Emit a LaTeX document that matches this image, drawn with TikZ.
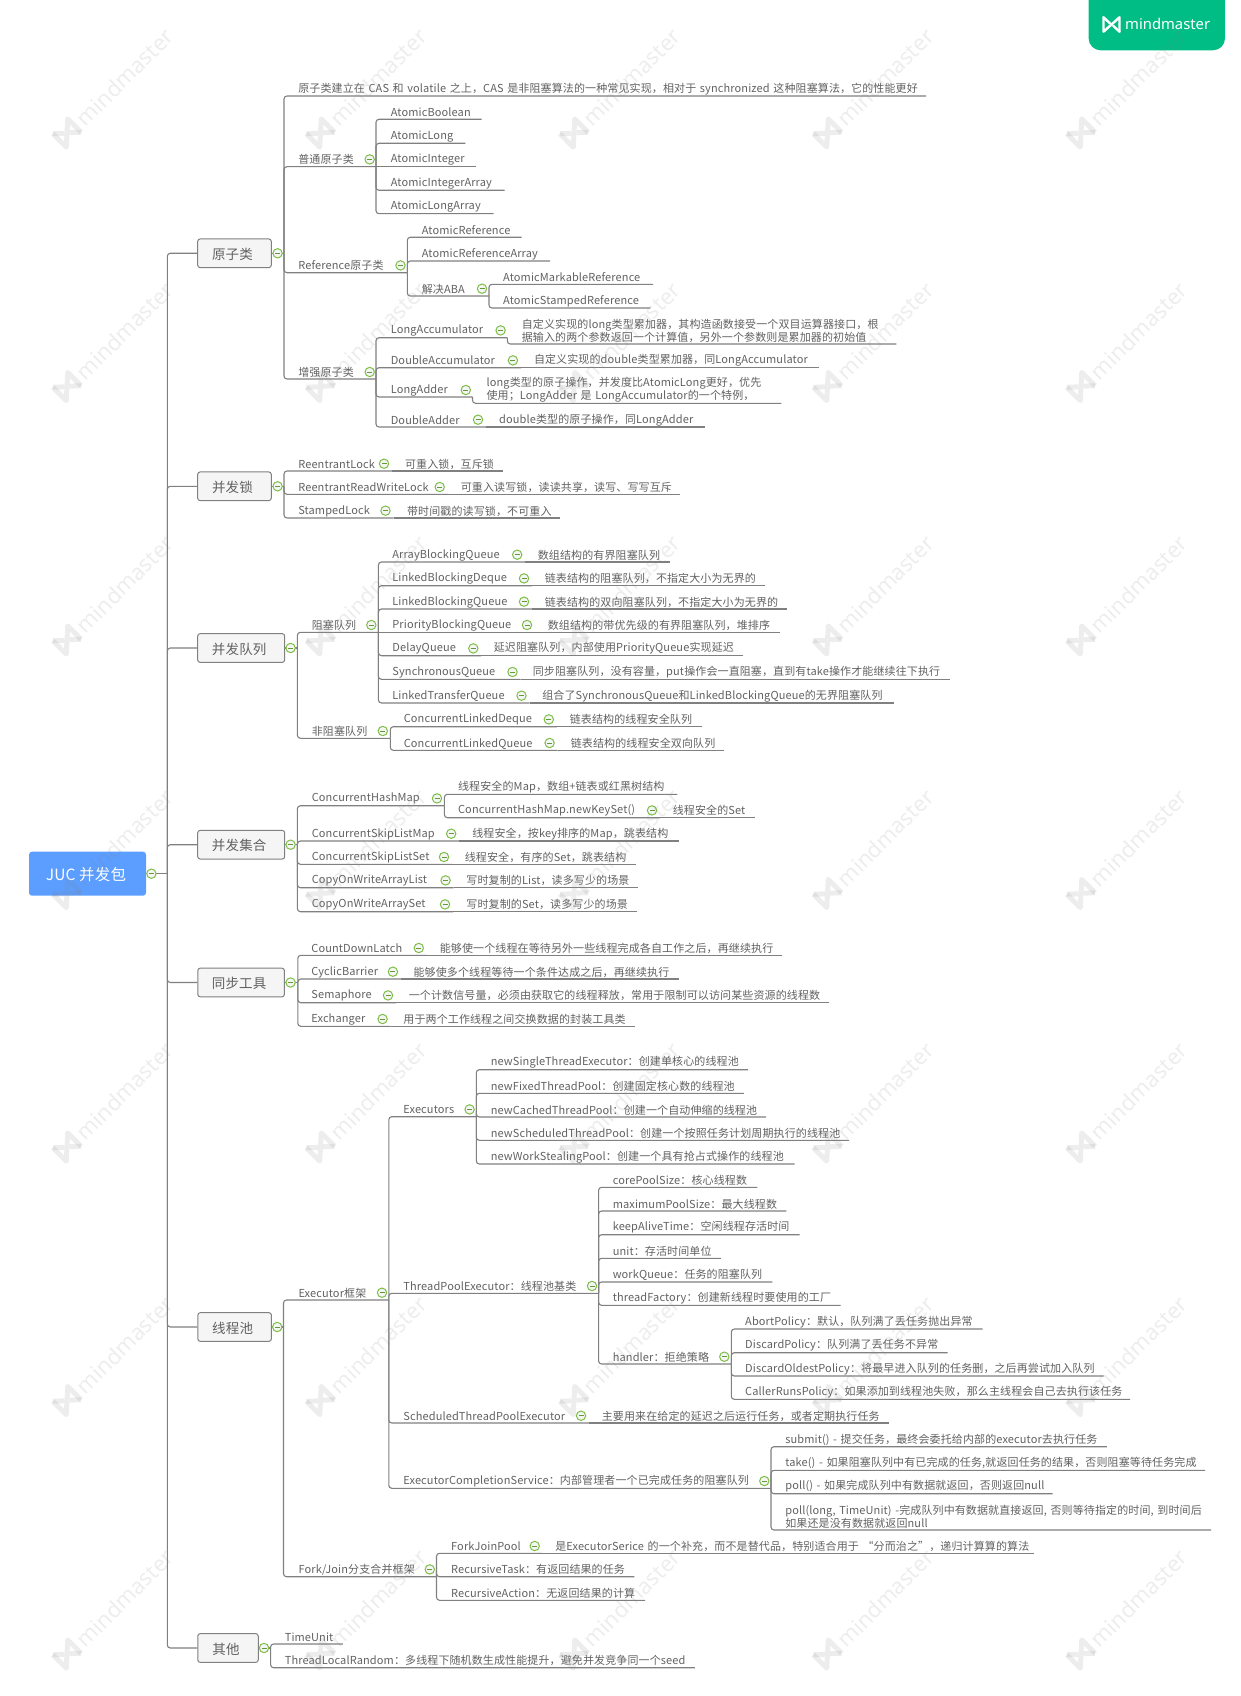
\documentclass[tikz,border=0pt]{standalone}
\usepackage{fontspec}
\setmainfont{Noto Sans CJK SC}[LetterSpace=1.1]
\newfontfamily\mmfont{Noto Sans}

\definecolor{linegray}{HTML}{808080}
\definecolor{textgray}{HTML}{616161}
\definecolor{boxfill}{HTML}{F5F5F5}
\definecolor{rootblue}{HTML}{5C9EFF}
\definecolor{togglegreen}{HTML}{7DBF46}
\definecolor{logogreen}{HTML}{00BD85}
\newcommand{\rowstrut}{\rule[-1.6pt]{0pt}{9pt}}

\tikzset{
    topic/.style={anchor=south east, inner xsep=0pt, inner ysep=1pt, align=left, text=textgray,
        font=\fontsize{11}{12.7}\selectfont, execute at end node=\rowstrut},
    catbox/.style={draw=linegray, fill=boxfill, rounded corners=2.5pt, line width=1pt, text=textgray,
        minimum height=28.7pt, inner sep=0pt, text height=12.5pt, text depth=0pt,
        font=\fontsize{13.5}{15}\selectfont, execute at end node=\hspace{4pt}},
    rootbox/.style={fill=rootblue, rounded corners=3pt, text=white, minimum width=117pt,
        minimum height=44pt, inner sep=0pt, text height=13.5pt, text depth=0pt,
        font=\fontsize{15.5}{17}\selectfont, execute at end node=\hspace{3pt}},
    link/.style={draw=linegray, line width=1.1pt, rounded corners=3pt},
    toggle/.style={circle, draw=togglegreen, fill=boxfill, line width=1pt, minimum size=9.4pt, inner sep=0pt,
        path picture={\draw[togglegreen!80!black, line width=.9pt]
            (path picture bounding box.west) ++(2.2pt,0) -- ++(5pt,0);}},
    mmlogo/.pic={
        \draw (-1,-.9) -- (-1,.9) -- (1,-.9) -- (1,.9);
        \draw (-1,-.9) -- (-.2,-.15);
        \draw (1,.9) -- (.2,.15);
    },
}

\begin{document}
\begin{tikzpicture}[x=1pt,y=-1pt]
    \useasboundingbox (0,0) rectangle (1240,1696);

    \fill[logogreen] (1088.6,0) [rounded corners=12pt] -- (1088.6,50.3) -- (1225,50.3) [sharp corners] -- (1225,0) -- cycle;
    \pic[white, line width=2.4pt, line join=round, line cap=round, scale=8] at (1111.5,24.5) {mmlogo};
    \node[anchor=west, inner sep=0pt, text=white, font=\mmfont\fontsize{14.8}{16}\selectfont] (logotext) at (1125,24) {mindmaster};

    \node[rootbox] (root) at (87.5,873.7) {JUC 并发包};

    \node[catbox, minimum width=73.6pt] (atomic) at (234.5,253.3) {原子类};
    \node[catbox, minimum width=73.6pt] (locks) at (234.5,486.3) {并发锁};
    \node[catbox, minimum width=87pt] (queues) at (241.2,648) {并发队列};
    \node[catbox, minimum width=87pt] (colls) at (241.2,844.7) {并发集合};
    \node[catbox, minimum width=86.6pt] (tools) at (241.1,982.5) {同步工具};
    \node[catbox, minimum width=73.6pt] (pool) at (234.6,1327) {线程池};
    \node[catbox, minimum width=60.5pt] (misc) at (228,1648) {其他};

    \coordinate (rootfork) at (167.3,873.7);
    \coordinate (atomicfork) at (284,253.3);
    \coordinate (locksfork) at (284,486.3);
    \coordinate (queuesfork) at (297.4,648);
    \coordinate (collsfork) at (297.4,844.7);
    \coordinate (toolsfork) at (297.8,982.5);
    \coordinate (poolfork) at (283.5,1327);
    \coordinate (miscfork) at (270.6,1648);

    \foreach \n/\s/\u/\e/\txt in {
        atomnote/298.5/96/926/原子类建立在 CAS 和 volatile 之上，CAS 是非阻塞算法的一种常见实现，相对于 synchronized 这种阻塞算法，它的性能更好,
        basic/298.5/166.7/376/普通原子类,
        abool/391/119.3/481.6/AtomicBoolean,
        along/391/143.3/465.4/AtomicLong,
        aint/391/166.7/476/AtomicInteger,
        aintarr/391/190.3/504.5/AtomicIntegerArray,
        alongarr/391/213.7/493.5/AtomicLongArray,
        refs/298.5/272.7/407.3/Reference原子类,
        aref/422/237.3/521.5/AtomicReference,
        arefarr/422/261/550/AtomicReferenceArray,
        aba/422/296/489/解决ABA,
        amark/503.4/284.3/653/AtomicMarkableReference,
        astamp/503.4/308/650.4/AtomicStampedReference,
        strong/298.5/379/376/增强原子类,
        laccu/391/337.7/507.3/LongAccumulator,
        laccunote/522/344/896.4/{自定义实现的long类型累加器，其构造函数接受一个双目运算器接口，根\\据输入的两个参数返回一个计算值，另外一个参数则是累加器的初始值},
        daccu/391/367.7/521/DoubleAccumulator,
        daccunote/534.2/367.7/818.5/自定义实现的double类型累加器，同LongAccumulator,
        ladd/391/397/472.5/LongAdder,
        laddnote/486.8/403.3/781.3/{long类型的原子操作，并发度比AtomicLong更好，优先\\使用；LongAdder 是 LongAccumulator的一个特例，},
        dadd/391/427/486/DoubleAdder,
        daddnote/499.4/427/704.6/double类型的原子操作，同LongAdder,
        rlock/298.5/471/392/ReentrantLock,
        rlocknote/405.3/471/503.4/可重入锁，互斥锁,
        rwlock/298.5/494.3/448/ReentrantReadWriteLock,
        rwlocknote/461/494.3/680/可重入读写锁，读读共享，读写、写写互斥,
        slock/298.5/518/393.5/StampedLock,
        slocknote/407.3/518/560/带时间戳的读写锁，不可重入,
        blocking/312/632.3/378.4/阻塞队列,
        abq/392.6/562/525/ArrayBlockingQueue,
        abqnote/538/562/670/数组结构的有界阻塞队列,
        lbd/392.6/585.7/532/LinkedBlockingDeque,
        lbdnote/545/585.7/765/链表结构的阻塞队列，不指定大小为无界的,
        lbq/392.6/609/532/LinkedBlockingQueue,
        lbqnote/545/609/787.3/链表结构的双向阻塞队列，不指定大小为无界的,
        pbq/392.6/632.3/535/PriorityBlockingQueue,
        pbqnote/548/632.3/780/数组结构的带优先级的有界阻塞队列，堆排序,
        dq/392.6/655.7/481/DelayQueue,
        dqnote/494/655.7/743.3/延迟阻塞队列，内部使用PriorityQueue实现延迟,
        sq/392.6/679.3/520.5/SynchronousQueue,
        sqnote/533/679.3/950/同步阻塞队列，没有容量，put操作会一直阻塞，直到有take操作才能继续往下执行,
        ltq/392.6/703/529.5/LinkedTransferQueue,
        ltqnote/542.5/703/894/组合了SynchronousQueue和LinkedBlockingQueue的无界阻塞队列,
        nonblock/312/738.3/390.3/非阻塞队列,
        cldq/404/726.7/556.8/ConcurrentLinkedDeque,
        cldqnote/570/726.7/701.7/链表结构的线程安全队列,
        clq/404/750.3/557.6/ConcurrentLinkedQueue,
        clqnote/571/750.3/724/链表结构的线程安全双向队列,
        chm/312/805.7/444.4/ConcurrentHashMap,
        chmsafe/458.3/794.3/677.3/线程安全的Map，数组+链表或红黑树结构,
        keyset/458.3/817.7/660/ConcurrentHashMap.newKeySet(),
        keysetnote/673/817.7/754.7/线程安全的Set,
        cslm/312/841/459.2/ConcurrentSkipListMap,
        cslmnote/472.5/841/679/线程安全，按key排序的Map，跳表结构,
        csls/312/864.3/452/ConcurrentSkipListSet,
        cslsnote/465/864.3/635.7/线程安全，有序的Set，跳表结构,
        cowl/312/887.7/453.6/CopyOnWriteArrayList,
        cowlnote/466.6/887.7/638/写时复制的List，读多写少的场景,
        cows/312/911.7/453/CopyOnWriteArraySet,
        cowsnote/466.6/911.7/636.7/写时复制的Set，读多写少的场景,
        cdl/311.6/955.3/426.8/CountDownLatch,
        cdlnote/440/955.3/782/能够使一个线程在等待另外一些线程完成各自工作之后，再继续执行,
        cyb/311.6/979/401/CyclicBarrier,
        cybnote/413.8/979/678.6/能够使多个线程等待一个条件达成之后，再继续执行,
        sem/311.6/1002.7/396/Semaphore,
        semnote/409/1002.7/828.6/一个计数信号量，必须由获取它的线程释放，常用于限制可以访问某些资源的线程数,
        exch/311.6/1026.3/390.6/Exchanger,
        exchnote/403.6/1026.3/634.8/用于两个工作线程之间交换数据的封装工具类,
        exec/298.7/1300/388.8/Executor框架,
        execs/403.6/1116.7/476.3/Executors,
        nsingle/491/1069.7/748/newSingleThreadExecutor：创建单核心的线程池,
        nfixed/491/1093.3/743.8/newFixedThreadPool：创建固定核心数的线程池,
        ncached/491/1117/766/newCachedThreadPool：创建一个自动伸缩的线程池,
        nsched/491/1140.3/849/newScheduledThreadPool：创建一个按照任务计划周期执行的线程池,
        nsteal/491/1164/794.6/newWorkStealingPool：创建一个具有抢占式操作的线程池,
        tpe/403.6/1293.3/598.6/ThreadPoolExecutor：线程池基类,
        coresize/613/1187.3/757.3/corePoolSize：核心线程数,
        maxsize/613/1211/786.4/maximumPoolSize：最大线程数,
        alive/613/1234.7/799.6/keepAliveTime：空闲线程存活时间,
        unit/613/1258.3/720.8/unit：存活时间单位,
        wqueue/613/1282/772.3/workQueue：任务的阻塞队列,
        tfact/613/1305.3/840.5/threadFactory：创建新线程时要使用的工厂,
        handler/613/1364/731.3/handler：拒绝策略,
        pabort/745.4/1329/982.7/AbortPolicy：默认，队列满了丢任务抛出异常,
        pdisc/745.4/1352.7/947.5/DiscardPolicy：队列满了丢任务不异常,
        pold/745.4/1376/1103.7/DiscardOldestPolicy：将最早进入队列的任务删，之后再尝试加入队列,
        pcaller/745.4/1399.3/1130/CallerRunsPolicy：如果添加到线程池失败，那么主线程会自己去执行该任务,
        stpe/403.6/1423/589/ScheduledThreadPoolExecutor,
        stpenote/602/1423/889/主要用来在给定的延迟之后运行任务，或者定期执行任务,
        ecs/403.6/1488.3/771/ExecutorCompletionService：内部管理者一个已完成任务的阻塞队列,
        esubmit/785.5/1446.7/1106.8/submit() - 提交任务，最终会委托给内部的executor去执行任务,
        etake/785.5/1470.3/1205/{take() - 如果阻塞队列中有已完成的任务,就返回任务的结果，否则阻塞等待任务完成},
        epoll/785.5/1493.7/1052.6/poll() - 如果完成队列中有数据就返回，否则返回null,
        epollt/785.5/1530/1211/{poll(long, TimeUnit) -完成队列中有数据就直接返回, 否则等待指定的时间, 到时间后\\如果还是没有数据就返回null},
        fjoin/298.8/1576.7/436.5/{Fork/Join分支合并框架},
        fjpool/451.4/1553.3/542/ForkJoinPool,
        fjpoolnote/555.5/1553.3/1034/是ExecutorSerice 的一个补充，而不是替代品，特别适合用于 “分而治之”，递归计算算的算法,
        rtask/451.4/1576.7/634.3/RecursiveTask：有返回结果的任务,
        raction/451.4/1600.3/645/RecursiveAction：无返回结果的计算,
        tunit/285/1644/342.8/TimeUnit,
        tlrandom/285/1667.7/694.8/ThreadLocalRandom：多线程下随机数生成性能提升，避免并发竞争同一个seed}
    {
        \pgfmathsetmacro\w{\e-\s}
        \node[topic, text width=\w pt] (\n) at (\e,\u) {\txt};
    }

    \draw[link] (root) -- (rootfork);
    \draw[link] (atomic) -- (atomicfork);
    \draw[link] (locks) -- (locksfork);
    \draw[link] (queues) -- (queuesfork);
    \draw[link] (colls) -- (collsfork);
    \draw[link] (tools) -- (toolsfork);
    \draw[link] (pool) -- (poolfork);
    \draw[link] (misc) -- (miscfork);

    \foreach \c in {atomic,locks,queues,colls,tools,pool,misc}
        \draw[link] (rootfork) |- (\c.west);

    \foreach \p/\c in {atomicfork/atomnote, atomicfork/basic, atomicfork/refs, atomicfork/strong,
        locksfork/rlock, locksfork/rwlock, locksfork/slock,
        queuesfork/blocking, queuesfork/nonblock,
        collsfork/chm, collsfork/cslm, collsfork/csls, collsfork/cowl, collsfork/cows,
        toolsfork/cdl, toolsfork/cyb, toolsfork/sem, toolsfork/exch,
        poolfork/exec, poolfork/fjoin,
        miscfork/tunit, miscfork/tlrandom}
        \draw[link] (\p) |- (\c.south east);

    \foreach \p/\c in {basic/abool, basic/along, basic/aintarr, basic/alongarr,
        refs/aref, refs/arefarr, refs/aba, aba/amark, aba/astamp,
        strong/laccu, strong/daccu, strong/ladd, strong/dadd,
        laccu/laccunote, ladd/laddnote,
        blocking/abq, blocking/lbd, blocking/lbq, blocking/dq, blocking/sq, blocking/ltq,
        nonblock/cldq, nonblock/clq, chm/chmsafe, chm/keyset,
        exec/execs, exec/tpe, exec/stpe, exec/ecs,
        execs/nsingle, execs/nfixed, execs/ncached, execs/nsched, execs/nsteal,
        tpe/coresize, tpe/maxsize, tpe/alive, tpe/unit, tpe/wqueue, tpe/tfact, tpe/handler,
        handler/pabort, handler/pdisc, handler/pold, handler/pcaller,
        ecs/esubmit, ecs/etake, ecs/epoll, ecs/epollt,
        fjoin/fjpool, fjoin/rtask, fjoin/raction}
        \draw[link] (\p.south east) |- (\c.south east);

    \foreach \p/\c in {basic/aint, blocking/pbq,
        daccu/daccunote, dadd/daddnote,
        rlock/rlocknote, rwlock/rwlocknote, slock/slocknote,
        abq/abqnote, lbd/lbdnote, lbq/lbqnote, pbq/pbqnote, dq/dqnote, sq/sqnote, ltq/ltqnote,
        cldq/cldqnote, clq/clqnote, keyset/keysetnote,
        cslm/cslmnote, csls/cslsnote, cowl/cowlnote, cows/cowsnote,
        cdl/cdlnote, cyb/cybnote, sem/semnote, exch/exchnote,
        stpe/stpenote, fjpool/fjpoolnote}
        \draw[link] (\p.south east) -- (\c.south east);

    \foreach \x/\y [count=\i] in {151.4/873.7, 277.6/253.3, 277.6/486.3, 290.6/648, 290.6/844.7, 290.6/982.5, 277.2/1327, 264/1648,
        369.7/159.4, 400.5/265.4, 482/288.7, 369.7/372, 500.6/330.4, 512.9/360.4, 465.8/390, 478/419.7,
        384/463.7, 439.7/487, 385.5/510.7,
        371.3/625, 517.2/554.7, 524/578.4, 524/601.7, 527/625, 473.3/648.4, 512.5/672, 521.5/695.7, 382.8/731, 548.8/719.4, 549.6/743,
        437/798.4, 652/810.4, 451.2/833.7, 444/857, 445.6/880.4, 445/904.4,
        418.8/948, 392.9/971.7, 388/995.4, 382.6/1019,
        382/1292.7, 469.6/1109.4, 592/1286, 724.3/1356.7, 581/1415.7, 764.3/1481, 429.8/1569.4, 534.7/1546}
        \node[toggle] (tgl\i) at (\x,\y) {};

    \foreach \cx [count=\i] in {67,320.5,574,827.5,1081}
        \foreach \cy [count=\j] in {133,386.5,640,893.5,1147,1400.5,1654} {
            \pic[draw=gray, opacity=.14, line width=5pt, line join=round, rotate=45, scale=10.5] at (\cx,\cy) {mmlogo};
            \node[anchor=west, rotate=45, inner sep=0pt, text=gray, text opacity=.14, font=\mmfont\fontsize{22}{24}\selectfont] (mark\i\j) at (\cx+13,\cy-11) {mindmaster};
        }
\end{tikzpicture}
\end{document}
